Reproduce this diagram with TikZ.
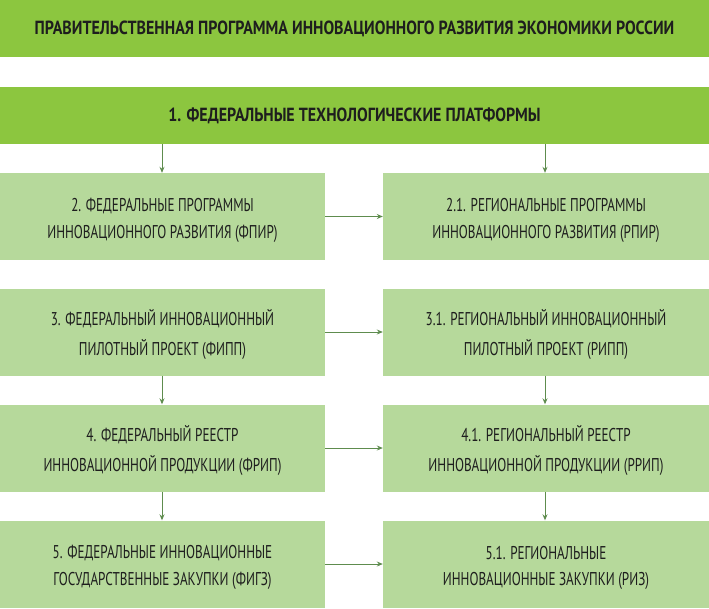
\documentclass[tikz,border=0pt]{standalone}
\usepackage{fontspec}
\setmainfont{PT Sans}[FakeStretch=0.71]
\newfontfamily\barfont{PT Sans}[FakeStretch=0.84]
\usetikzlibrary{arrows.meta}
\definecolor{darkbar}{HTML}{8CC63F}
\definecolor{lightbox}{HTML}{B6D99B}
\definecolor{arrowc}{HTML}{5E8C4E}
\definecolor{txt}{HTML}{1E1E1E}
\newcommand{\twolines}[2]{\raisebox{0pt}[14pt][0pt]{}\begin{tabular}[b]{@{}c@{}}\rule{0pt}{22pt}#1\\[8pt]#2\end{tabular}}
\tikzset{
  bar/.style={fill=darkbar, draw=none, inner sep=0pt, text=txt, font=\barfont\fontsize{19}{22}\selectfont\bfseries},
  lbox/.style={fill=lightbox, draw=none, inner sep=0pt, text=txt, font=\fontsize{18.5}{18}\selectfont},
  conn/.style={draw=arrowc, line width=0.9pt, -{Stealth[length=6pt,width=5pt]}},
}
\begin{document}
\begin{tikzpicture}[x=1pt,y=-1pt]
\useasboundingbox (0,0) rectangle (709,608);
\node[bar, minimum width=709pt, minimum height=57pt] (title) at (354.5,28.5) {ПРАВИТЕЛЬСТВЕННАЯ ПРОГРАММА ИННОВАЦИОННОГО РАЗВИТИЯ ЭКОНОМИКИ РОССИИ};
\node[bar, minimum width=709pt, minimum height=57pt] (p1) at (354.5,115.5) {1. ФЕДЕРАЛЬНЫЕ ТЕХНОЛОГИЧЕСКИЕ ПЛАТФОРМЫ};
\tikzset{lb/.style={lbox, minimum width=325pt, minimum height=87pt}, rb/.style={lbox, minimum width=326pt, minimum height=87pt}}
\node[lb] (f2) at (162.5,216.5) {\twolines{2. ФЕДЕРАЛЬНЫЕ ПРОГРАММЫ}{ИННОВАЦИОННОГО РАЗВИТИЯ (ФПИР)}};
\node[rb] (r2) at (546,216.5) {\twolines{2.1. РЕГИОНАЛЬНЫЕ ПРОГРАММЫ}{ИННОВАЦИОННОГО РАЗВИТИЯ (РПИР)}};
\node[lb] (f3) at (162.5,332) {\twolines{3. ФЕДЕРАЛЬНЫЙ ИННОВАЦИОННЫЙ}{ПИЛОТНЫЙ ПРОЕКТ (ФИПП)}};
\node[rb] (r3) at (546,332) {\twolines{3.1. РЕГИОНАЛЬНЫЙ ИННОВАЦИОННЫЙ}{ПИЛОТНЫЙ ПРОЕКТ (РИПП)}};
\node[lb] (f4) at (162.5,448) {\twolines{4. ФЕДЕРАЛЬНЫЙ РЕЕСТР}{ИННОВАЦИОННОЙ ПРОДУКЦИИ (ФРИП)}};
\node[rb] (r4) at (546,448) {\twolines{4.1. РЕГИОНАЛЬНЫЙ РЕЕСТР}{ИННОВАЦИОННОЙ ПРОДУКЦИИ (РРИП)}};
\node[lb] (f5) at (162.5,564) {\twolines{5. ФЕДЕРАЛЬНЫЕ ИННОВАЦИОННЫЕ}{ГОСУДАРСТВЕННЫЕ ЗАКУПКИ (ФИГЗ)}};
\node[rb] (r5) at (546,564) {\twolines{5.1. РЕГИОНАЛЬНЫЕ}{ИННОВАЦИОННЫЕ ЗАКУПКИ (РИЗ)}};
% vertical arrows
\draw[conn] (p1.south -| 162,0) -- (f2.north -| 162,0);
\draw[conn] (p1.south -| 545,0) -- (r2.north -| 545,0);
\draw[conn] (f3.south -| 162,0) -- (f4.north -| 162,0);
\draw[conn] (r3.south -| 545,0) -- (r4.north -| 545,0);
\draw[conn] (f4.south -| 162,0) -- (f5.north -| 162,0);
\draw[conn] (r4.south -| 545,0) -- (r5.north -| 545,0);
% horizontal arrows
\draw[conn] (f2.east) -- (r2.west);
\draw[conn] (f3.east) -- (r3.west);
\draw[conn] (f4.east) -- (r4.west);
\draw[conn] (f5.east) -- (r5.west);
\end{tikzpicture}
\end{document}
